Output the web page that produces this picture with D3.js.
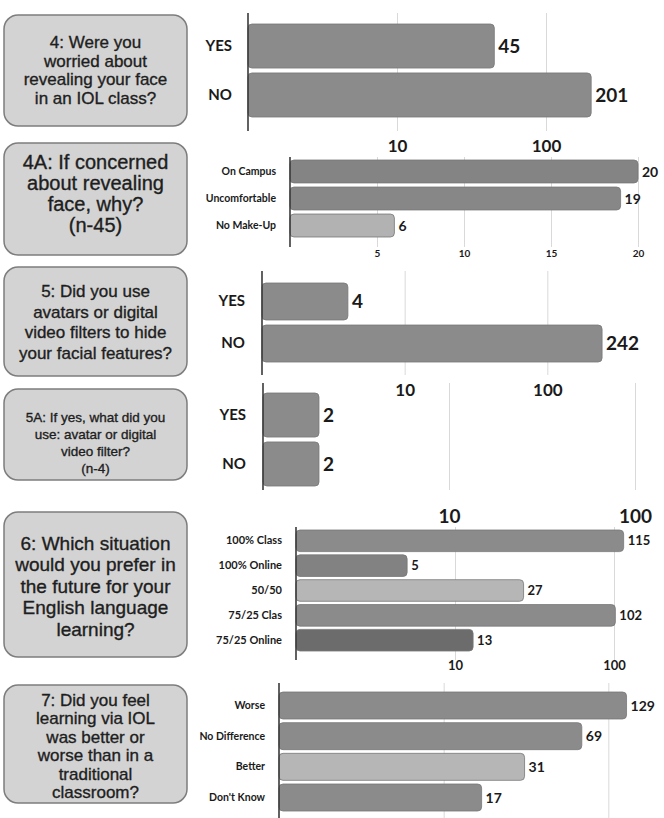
<!DOCTYPE html>
<html><head><meta charset="utf-8">
<script src="https://cdn.jsdelivr.net/npm/d3@7"></script>
<style>body{margin:0;background:#fff}</style>
</head><body>
<script>
// ---------- DATA ----------
const q4Question = ["4: Were you","worried about","revealing your face","in an IOL class?"];
const q4Cats = ["YES","NO"];
const q4Vals = [45,201];

const q4aQuestion = ["4A: If concerned","about revealing","face, why?","(n-45)"];
const q4aCats = ["On Campus","Uncomfortable","No Make-Up"];
const q4aVals = [20,19,6];

const q5Question = ["5: Did you use","avatars or digital","video filters to hide","your facial features?"];
const q5Cats = ["YES","NO"];
const q5Vals = [4,242];

const q5aQuestion = ["5A: If yes, what did you","use: avatar or digital","video filter?","(n-4)"];
const q5aCats = ["YES","NO"];
const q5aVals = [2,2];

const q6Question = ["6: Which situation","would you prefer in","the future for your","English language","learning?"];
const q6Cats = ["100% Class","100% Online","50/50","75/25 Clas","75/25 Online"];
const q6Vals = [115,5,27,102,13];

const q7Question = ["7: Did you feel","learning via IOL","was better or","worse than in a","traditional","classroom?"];
const q7Cats = ["Worse","No Difference","Better","Don't Know"];
const q7Vals = [129,69,31,17];

const logTicks = [10,100];
const linTicks = [5,10,15,20];

// ---------- STYLE ----------
const barColor = {
  "On Campus":"#848484","Uncomfortable":"#878787","No Make-Up":"#b2b2b2",
  "100% Online":"#828282","50/50":"#b6b6b6","75/25 Online":"#6c6c6c",
  "Better":"#b6b6b6"
};
const defaultBar = "#8b8b8b";
const geo = "Lato, 'DejaVu Sans', sans-serif";
const boxFont = "'Liberation Sans', Arial, sans-serif";

const svg = d3.select("body").append("svg").attr("width",664).attr("height",818);

function drawPanel(p){
  const g = svg.append("g");
  // question box
  g.append("rect").attr("x",p.box[0]).attr("y",p.box[1]).attr("width",p.box[2]).attr("height",p.box[3])
    .attr("rx",14).attr("fill","#d3d3d3").attr("stroke","#7d7d7d").attr("stroke-width",1.5);
  const cx = p.box[0]+p.box[2]/2;
  const n = p.question.length;
  const mid = p.textMid;
  g.append("g").selectAll("text").data(p.question).join("text")
    .attr("x",cx).attr("y",(d,i)=>mid+(i-(n-1)/2)*p.lh).attr("dy","0.35em")
    .attr("text-anchor","middle").attr("font-family",boxFont).attr("font-size",p.qfs)
    .attr("fill","#1e1e1e").attr("stroke","#1e1e1e").attr("stroke-width",0.35)
    .text(d=>d);

  const x = p.x, y = p.y;
  const x0 = x(x.domain()[0]);
  // gridlines
  g.append("g").attr("transform",`translate(0,${p.axis[1]})`)
    .call(d3.axisBottom(x).tickValues(p.grid).tickSize(-(p.axis[1]-p.axis[0])).tickFormat(""))
    .call(s=>s.select(".domain").remove())
    .call(s=>s.selectAll("line").attr("stroke","#d9d9d9").attr("stroke-width",1));
  // bars
  g.append("g").selectAll("rect").data(p.cats).join("rect")
    .attr("x",x0).attr("y",d=>y(d)).attr("height",y.bandwidth())
    .attr("width",(d,i)=>x(p.vals[i])-x0).attr("rx",4)
    .attr("fill",d=>barColor[d]||defaultBar).attr("stroke","#777").attr("stroke-width",0.8);
  // value labels
  g.append("g").selectAll("text").data(p.cats).join("text")
    .attr("x",(d,i)=>x(p.vals[i])+4).attr("y",d=>y(d)+y.bandwidth()/2).attr("dy","0.36em")
    .attr("font-family",geo).attr("font-weight",700).attr("font-size",p.vfs).attr("fill","#1a1a1a")
    .text((d,i)=>p.vals[i]);
  // category axis
  g.append("g").attr("transform",`translate(${x0},0)`)
    .call(d3.axisLeft(y).tickSize(0).tickPadding(p.pad))
    .call(s=>s.select(".domain").remove())
    .call(s=>s.selectAll("text").attr("font-family",geo).attr("font-weight",700)
      .attr("font-size",p.cfs).attr("fill","#1a1a1a"));
  // axis line
  g.append("line").attr("x1",x0).attr("x2",x0).attr("y1",p.axis[0]).attr("y2",p.axis[1])
    .attr("stroke","#3a3a3a").attr("stroke-width",1.6);
  // value axis labels
  if(p.labelY){
    g.append("g").attr("transform",`translate(0,${p.labelY})`)
      .call(d3.axisBottom(x).tickValues(p.ticks).tickSize(0).tickPadding(0).tickFormat(d3.format("d")))
      .call(s=>s.select(".domain").remove())
      .call(s=>s.selectAll("text").attr("y",0).attr("dy","0.35em").attr("font-family",geo)
        .attr("font-weight",p.lfw||700).attr("font-size",p.lfs).attr("fill","#1a1a1a"));
  }
}

const panels = [
  {question:q4Question, cats:q4Cats, vals:q4Vals, box:[4,15,183,111], textMid:70, lh:18.5, qfs:17,
   x:d3.scaleLog().domain([1,1000]).range([248,695]),
   y:d3.scaleBand().domain(q4Cats).range([24,117]).paddingInner(0.1),
   axis:[13,131], grid:logTicks, ticks:logTicks, labelY:146, lfs:17, pad:16, cfs:15, vfs:19},
  {question:q4aQuestion, cats:q4aCats, vals:q4aVals, box:[4,143,183,112], textMid:193, lh:21, qfs:20,
   x:d3.scaleLinear().domain([0,20]).range([290,638]),
   y:d3.scaleBand().domain(q4aCats).range([160,237]).paddingInner(0.15),
   axis:[157,247], grid:linTicks, ticks:linTicks, labelY:253, lfs:10, pad:14, cfs:10.5, vfs:14},
  {question:q5Question, cats:q5Cats, vals:q5Vals, box:[4,267,183,109], textMid:322, lh:20.5, qfs:17,
   x:d3.scaleLog().domain([1,1000]).range([262,690]),
   y:d3.scaleBand().domain(q5Cats).range([283,362]).paddingInner(0.12),
   axis:[271,375], grid:logTicks, ticks:logTicks, labelY:390, lfs:17, pad:17, cfs:15, vfs:19},
  {question:q5aQuestion, cats:q5aCats, vals:q5aVals, box:[4,389,183,91], textMid:443, lh:17, qfs:13.5,
   x:d3.scaleLog().domain([1,1000]).range([263,821]),
   y:d3.scaleBand().domain(q5aCats).range([393,486]).paddingInner(0.1),
   axis:[383,490], grid:logTicks, ticks:logTicks, labelY:516, lfs:19, pad:17, cfs:15, vfs:19},
  {question:q6Question, cats:q6Cats, vals:q6Vals, box:[4,512,183,145], textMid:586, lh:21.5, qfs:19,
   x:d3.scaleLog().domain([1,1000]).range([296,773]),
   y:d3.scaleBand().domain(q6Cats).range([530,651]).paddingInner(0.13),
   axis:[527,660], grid:logTicks, ticks:logTicks, labelY:665, lfs:13, pad:14, cfs:11, vfs:13},
  {question:q7Question, cats:q7Cats, vals:q7Vals, box:[4,685,183,118], textMid:746, lh:18.4, qfs:17,
   x:d3.scaleLog().domain([1,1000]).range([279,773]),
   y:d3.scaleBand().domain(q7Cats).range([692,811]).paddingInner(0.12),
   axis:[683,818], grid:logTicks, ticks:logTicks, labelY:null, pad:14, cfs:10.5, vfs:14}
];
panels.forEach(drawPanel);
</script>
</body></html>
